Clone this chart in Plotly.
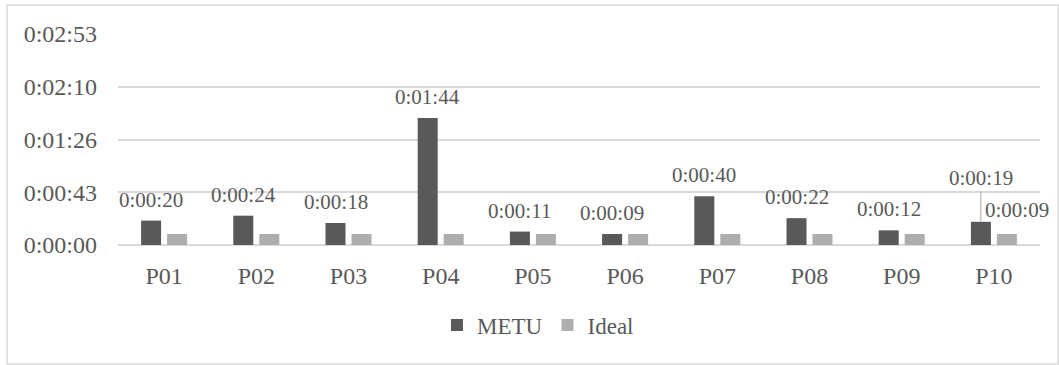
import plotly.graph_objects as go

participants = ["P01", "P02", "P03", "P04", "P05", "P06", "P07", "P08", "P09", "P10"]
metu_seconds = [20, 24, 18, 104, 11, 9, 40, 22, 12, 19]
ideal_seconds = [9, 9, 9, 9, 9, 9, 9, 9, 9, 9]
y_ticks = [0, 43.2, 86.4, 129.6, 172.8]

FONT = "Liberation Serif"
TEXT_COLOR = "#595959"
METU_COLOR = "#595959"
IDEAL_COLOR = "#aeaeae"
GRID_COLOR = "#d9d9d9"


def hms(seconds):
    s = int(round(seconds))
    return f"{s // 3600}:{(s % 3600) // 60:02d}:{s % 60:02d}"


def font(size):
    return dict(family=FONT, size=size, color=TEXT_COLOR)


fig = go.Figure()
fig.add_trace(go.Bar(name="METU", x=participants, y=metu_seconds,
                     marker_color=METU_COLOR, marker_line_width=0))
fig.add_trace(go.Bar(name="Ideal", x=participants, y=ideal_seconds,
                     marker_color=IDEAL_COLOR, marker_line_width=0))

# value labels above the METU bars; the last one is lifted with a leader line
annotations = []
for i, (p, v) in enumerate(zip(participants, metu_seconds)):
    if i == len(participants) - 1:
        annotations.append(dict(x=p, y=v, xshift=-13, text=hms(v), showarrow=True,
                                arrowhead=0, arrowwidth=1, arrowcolor="#a6a6a6",
                                ax=0, ay=-44, standoff=0, font=font(21)))
    else:
        annotations.append(dict(x=p, y=v, xshift=-13, yshift=21, text=hms(v),
                                showarrow=False, yanchor="middle", font=font(21)))
# single Ideal label on the last participant
last = len(participants) - 1
annotations.append(dict(x=participants[last], y=ideal_seconds[last], xshift=23, yshift=24,
                        text=hms(ideal_seconds[last]), showarrow=False, yanchor="middle",
                        font=font(21)))

fig.update_layout(
    width=1059, height=365,
    margin=dict(l=118, r=19, t=34, b=120, autoexpand=False),
    paper_bgcolor="white", plot_bgcolor="white",
    barmode="group", bargap=0.436, bargroupgap=0.23,
    font=font(23),
    showlegend=True,
    legend=dict(orientation="h", x=0.4555, y=-0.379, xanchor="center", yanchor="middle",
                font=font(23), itemwidth=30, itemsizing="constant", tracegroupgap=0),
    annotations=annotations,
    shapes=[dict(type="rect", xref="paper", yref="paper",
                 x0=-0.1204, x1=1.0195, y0=-0.564, y1=1.137,
                 line=dict(color=GRID_COLOR, width=1.5), fillcolor="rgba(0,0,0,0)",
                 layer="below")],
)
fig.update_xaxes(range=[-0.5, len(participants) - 0.5], showgrid=False, showline=False,
                 zeroline=False, ticks="", automargin=False, ticklabelstandoff=14,
                 tickfont=font(24))
fig.update_yaxes(range=[0, 172.8], tickvals=y_ticks, ticktext=[hms(t) for t in y_ticks],
                 showgrid=True, gridcolor=GRID_COLOR, gridwidth=1.5,
                 zeroline=True, zerolinecolor=GRID_COLOR, zerolinewidth=1.5,
                 showline=False, ticks="", automargin=False, ticklabelstandoff=20,
                 tickfont=font(24))

fig.write_html("out.html")
